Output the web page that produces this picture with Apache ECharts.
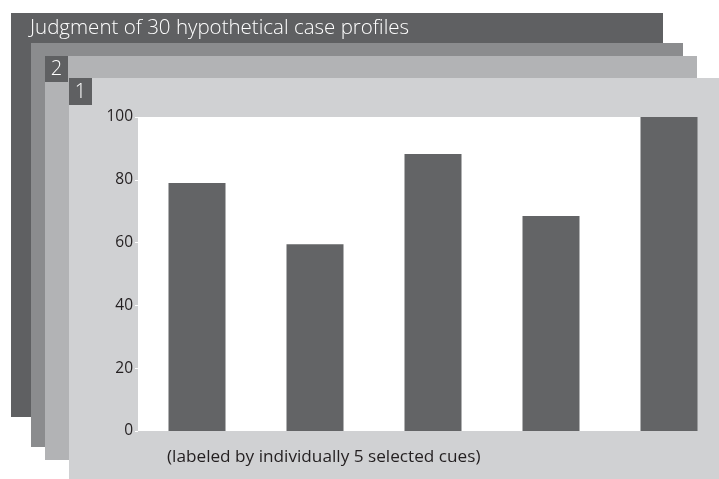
<!DOCTYPE html>
<html>
<head>
<meta charset="utf-8">
<script src="https://cdn.jsdelivr.net/npm/echarts@6/dist/echarts.min.js"></script>
<style>
html,body{margin:0;padding:0;background:#ffffff;}
#chart{width:719px;height:479px;}
</style>
</head>
<body>
<div id="chart"></div>
<script>
const titleText = 'Judgment of 30 hypothetical case profiles';
const subtitleText = '(labeled by individually 5 selected cues)';
const categories = ['A', 'B', 'C', 'D', 'E'];
const values = [79, 59.5, 88.2, 68.5, 100];
const yTicks = [0, 20, 40, 60, 80, 100];
const cardLabels = ['2', '1'];

const chart = echarts.init(document.getElementById('chart'));
const fontFam = '"Open Sans", Lato, sans-serif';

chart.setOption({
  animation: false,
  backgroundColor: '#ffffff',
  graphic: [
    { type: 'rect', z: -10, shape: { x: 11, y: 13, width: 652, height: 404 }, style: { fill: '#5f6062' } },
    { type: 'text', z: -9, x: 30, y: 28, style: { text: titleText, fill: '#ffffff', font: '300 20.5px ' + fontFam, verticalAlign: 'middle' } },
    { type: 'rect', z: -8, shape: { x: 31, y: 43, width: 652, height: 404 }, style: { fill: '#8b8c8e' } },
    { type: 'rect', z: -7, shape: { x: 45, y: 56, width: 652, height: 404 }, style: { fill: '#b2b3b5' } },
    { type: 'rect', z: -6, shape: { x: 45, y: 56, width: 23, height: 26 }, style: { fill: '#5f6062' } },
    { type: 'text', z: -5, x: 56.5, y: 69.5, style: { text: cardLabels[0], fill: '#ffffff', font: '300 20px ' + fontFam, align: 'center', verticalAlign: 'middle' } },
    { type: 'rect', z: -4, shape: { x: 69, y: 78, width: 660, height: 420 }, style: { fill: '#d0d1d3' } },
    { type: 'rect', z: -3, shape: { x: 69, y: 78, width: 23, height: 27 }, style: { fill: '#5f6062' } },
    { type: 'text', z: -2, x: 80.5, y: 92.5, style: { text: cardLabels[1], fill: '#ffffff', font: '300 20px ' + fontFam, align: 'center', verticalAlign: 'middle' } },
    { type: 'rect', z: -1, shape: { x: 138, y: 117, width: 558, height: 314 }, style: { fill: '#ffffff' } },
    { type: 'text', z: 5, x: 167, y: 457.5, style: { text: subtitleText, fill: '#231f20', font: '400 17.2px ' + fontFam, verticalAlign: 'middle' } }
  ],
  grid: { left: 138, top: 117, width: 590, height: 314, containLabel: false, outerBoundsMode: 'none' },
  xAxis: {
    type: 'category',
    data: categories,
    axisLine: { show: false },
    axisTick: { show: false },
    axisLabel: { show: false },
    splitLine: { show: false }
  },
  yAxis: {
    type: 'value',
    min: yTicks[0],
    max: yTicks[yTicks.length - 1],
    interval: 20,
    axisLine: { show: false },
    axisTick: { show: true, length: 3, lineStyle: { color: '#ffffff', width: 1 } },
    axisLabel: { color: '#231f20', fontSize: 15.5, fontFamily: fontFam, margin: 5 },
    splitLine: { show: false }
  },
  series: [{
    type: 'bar',
    data: values,
    barWidth: 57,
    itemStyle: { color: '#636466' }
  }]
});
</script>
</body>
</html>
